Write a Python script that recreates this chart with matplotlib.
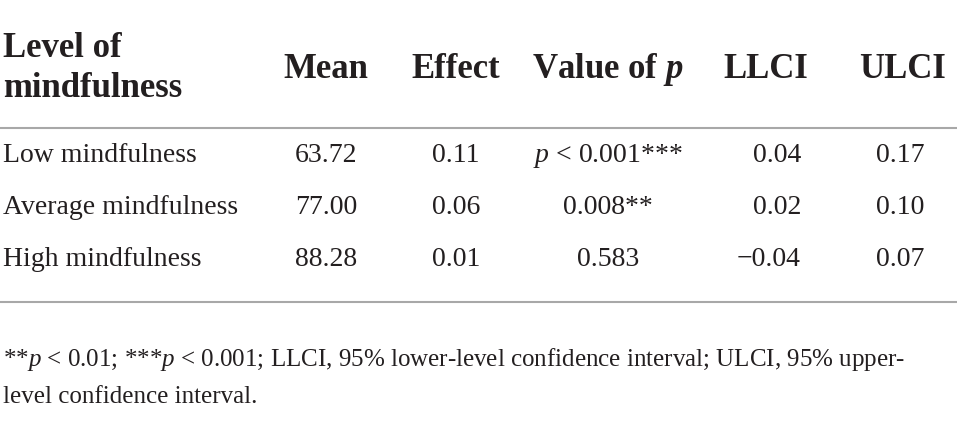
import matplotlib
matplotlib.use('Agg')
import matplotlib.pyplot as plt

plt.rcParams['font.family'] = ['Liberation Serif', 'DejaVu Serif']
plt.rcParams['mathtext.fontset'] = 'custom'
plt.rcParams['mathtext.rm'] = 'Liberation Serif'
plt.rcParams['mathtext.it'] = 'Liberation Serif:italic'
plt.rcParams['mathtext.bf'] = 'Liberation Serif:bold'
plt.rcParams['mathtext.bfit'] = 'Liberation Serif:italic:bold'

# table contents
headers = ['Level of\nmindfulness', 'Mean', 'Effect', r'Value of $\mathbfit{p}$', 'LLCI', 'ULCI']
levels = ['Low mindfulness', 'Average mindfulness', 'High mindfulness']
means = ['63.72', '77.00', '88.28']
effects = ['0.11', '0.06', '0.01']
p_values = ['$p$ < 0.001***', '0.008**', '0.583']
llci = ['0.04', '0.02', '\u22120.04']
ulci = ['0.17', '0.10', '0.07']
footnote = ['**$p$ < 0.01; ***$p$ < 0.001; LLCI, 95% lower-level confidence interval; ULCI, 95% upper-',
            'level confidence interval.']

ink = '#231f20'
rule = '#a8a8a8'

W, H = 957, 422
fig = plt.figure(figsize=(W / 100, H / 100), dpi=100)
ax = fig.add_axes([0, 0, 1, 1])
ax.set_xlim(0, W)
ax.set_ylim(H, 0)
ax.axis('off')

# header row
head_x = [3, 326, 456, 608, 766, 902]
head_ha = ['left', 'center', 'center', 'center', 'center', 'center']
for txt, x, ha in zip(headers, head_x, head_ha):
    lines = txt.split('\n')
    if len(lines) == 1:
        ax.text(x, 78, txt, ha=ha, va='baseline', fontsize=25, fontweight='bold', color=ink)
    else:
        for k, line in enumerate(lines):
            ax.text(x, 57 + 40 * k, line, ha=ha, va='baseline', fontsize=25,
                    fontweight='bold', color=ink)

ax.axhline(128, color=rule, lw=1.5)

# body rows
row_y = [161.5, 214, 266.5]
columns = [(levels, 3, 'left'), (means, 326, 'center'), (effects, 456, 'center'),
           (p_values, 608, 'center'), (llci, 801, 'right'), (ulci, 900, 'center')]
for values, x, ha in columns:
    for v, y in zip(values, row_y):
        ax.text(x, y, v, ha=ha, va='baseline', fontsize=20, color=ink)

ax.axhline(302, color=rule, lw=1.5)

# footnote
for k, line in enumerate(footnote):
    ax.text(3, 366 + 37 * k, line, ha='left', va='baseline', fontsize=18, color=ink)

fig.savefig('out.png', dpi=100)
